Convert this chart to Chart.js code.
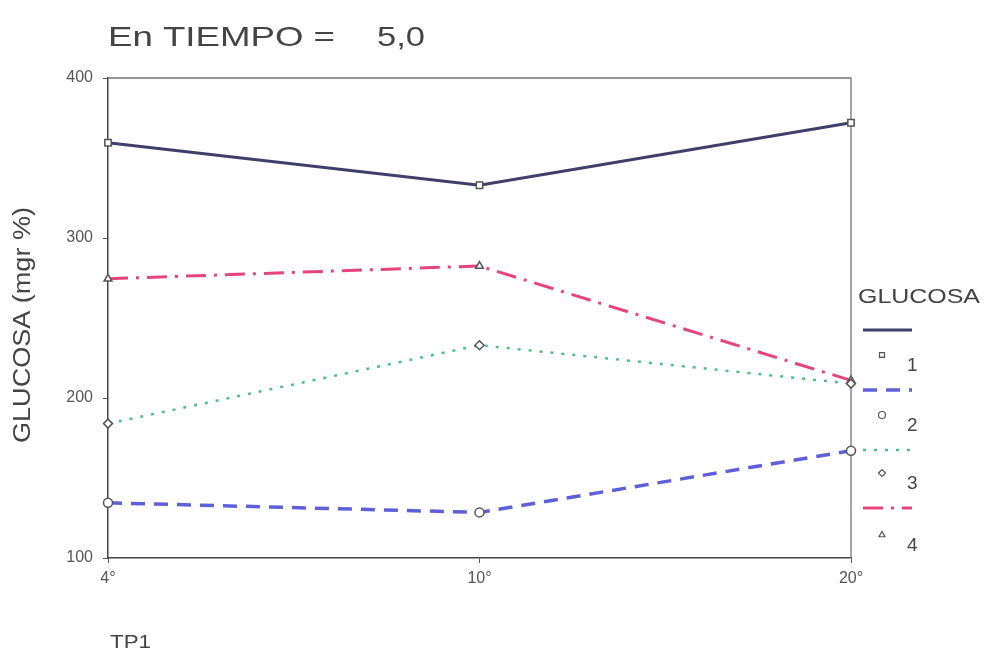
<!DOCTYPE html>
<html>
<head>
<meta charset="utf-8">
<script src="https://cdn.jsdelivr.net/npm/chart.js@4.4.1/dist/chart.umd.min.js"></script>
<style>
  html, body { margin: 0; padding: 0; background: #fff; }
  #wrap { width: 988px; height: 656px; position: relative; }
</style>
</head>
<body>
<div id="wrap"><canvas id="grafico"></canvas></div>
<script>
// datos
const categorias = ['4°', '10°', '20°'];
const serie1 = [359.5, 333, 372];
const serie2 = [134.5, 128.5, 167];
const serie3 = [184, 233, 209];
const serie4 = [274.5, 282.5, 211];
const nombresSeries = ['1', '2', '3', '4'];
const ticksY = [100, 200, 300, 400];

const fuente = "'Liberation Sans', Arial, sans-serif";

// texto con ancho ajustado (el original esta algo estirado)
function texto(ctx, str, x, y, size, ancho, align) {
  ctx.save();
  ctx.font = size + 'px ' + fuente;
  const w = ctx.measureText(str).width;
  const s = ancho ? ancho / w : 1;
  ctx.translate(x, y);
  ctx.scale(s, 1);
  ctx.textAlign = align || 'left';
  ctx.fillText(str, 0, 0);
  ctx.restore();
}

const marco = {
  id: 'marco',
  beforeDatasetsDraw(chart) {
    const { ctx, chartArea: a } = chart;
    ctx.save();
    ctx.strokeStyle = '#777';
    ctx.lineWidth = 1.3;
    ctx.beginPath();
    ctx.moveTo(a.left, a.top);
    ctx.lineTo(a.right, a.top);
    ctx.lineTo(a.right, a.bottom);
    ctx.stroke();
    ctx.restore();
  },
  afterDraw(chart) {
    const ctx = chart.ctx;
    ctx.save();
    ctx.fillStyle = '#444';
    ctx.textBaseline = 'alphabetic';
    // titulo
    texto(ctx, 'En TIEMPO =', 108, 46, 28, 227);
    texto(ctx, '5,0', 377, 46, 28, 48);
    // titulo eje x
    texto(ctx, 'TP1', 110, 648, 19, 41);
    // titulo eje y
    ctx.save();
    ctx.translate(24, 325);
    ctx.rotate(-Math.PI / 2);
    ctx.font = '23px ' + fuente;
    ctx.textAlign = 'center';
    ctx.textBaseline = 'middle';
    const wt = ctx.measureText('GLUCOSA (mgr %)').width;
    ctx.scale(236 / wt, 1);
    ctx.fillText('GLUCOSA (mgr %)', 0, 0);
    ctx.restore();

    // leyenda
    texto(ctx, 'GLUCOSA', 858, 303, 21, 122);
    const lineasY = [330, 390, 450, 508];
    const marcasY = [355, 415, 473, 535];
    chart.data.datasets.forEach((ds, i) => {
      ctx.save();
      ctx.strokeStyle = ds.borderColor;
      ctx.lineWidth = ds.borderWidth;
      ctx.setLineDash(ds.borderDash || []);
      ctx.beginPath();
      ctx.moveTo(863, lineasY[i]);
      ctx.lineTo(912, lineasY[i]);
      ctx.stroke();
      ctx.restore();
      ctx.save();
      ctx.fillStyle = '#fff';
      ctx.strokeStyle = '#555';
      ctx.lineWidth = 1.2;
      Chart.helpers.drawPoint(ctx, { pointStyle: ds.pointStyle, radius: 3.5, borderWidth: 1.2 }, 882, marcasY[i]);
      ctx.restore();
      ctx.fillStyle = '#444';
      texto(ctx, nombresSeries[i], 907, marcasY[i] + 16, 19);
    });
    ctx.restore();
  }
};

const ctx = document.getElementById('grafico').getContext('2d');
new Chart(ctx, {
  type: 'line',
  data: {
    labels: categorias,
    datasets: [
      { label: nombresSeries[0], data: serie1, borderColor: '#3f3f6b', borderWidth: 3, pointStyle: 'rect' },
      { label: nombresSeries[1], data: serie2, borderColor: '#5f5fdc', borderWidth: 3.5, borderDash: [14, 9], pointStyle: 'circle' },
      { label: nombresSeries[2], data: serie3, borderColor: '#4cc08a', borderWidth: 2.5, borderDash: [3, 8], pointStyle: 'rectRot' },
      { label: nombresSeries[3], data: serie4, borderColor: '#e8447c', borderWidth: 3, borderDash: [20, 8, 3, 8], pointStyle: 'triangle' }
    ].map(d => Object.assign(d, {
      tension: 0,
      fill: false,
      pointRadius: 4.5,
      pointBorderWidth: 1.5,
      pointBackgroundColor: '#fff',
      pointBorderColor: '#555'
    }))
  },
  options: {
    responsive: true,
    maintainAspectRatio: false,
    animation: false,
    layout: { padding: { top: 78, right: 137, bottom: 68, left: 0 } },
    plugins: {
      legend: { display: false },
      title: { display: false },
      tooltip: { enabled: false }
    },
    scales: {
      x: {
        type: 'category',
        offset: false,
        afterFit: (s) => { s.height = 30; },
        grid: { drawOnChartArea: false, drawTicks: true, tickLength: 5, color: '#555' },
        border: { display: true, color: '#444', width: 1.5 },
        ticks: { color: '#555', font: { family: fuente, size: 16 }, padding: 6, maxRotation: 0 }
      },
      y: {
        min: 100,
        max: 400,
        afterFit: (s) => { s.width = 108; },
        afterBuildTicks: (s) => { s.ticks = ticksY.map(v => ({ value: v })); },
        grid: { drawOnChartArea: false, drawTicks: true, tickLength: 5, color: '#555' },
        border: { display: true, color: '#444', width: 1.5 },
        ticks: { color: '#555', font: { family: fuente, size: 16 }, padding: 10 }
      }
    }
  },
  plugins: [marco]
});
</script>
</body>
</html>
